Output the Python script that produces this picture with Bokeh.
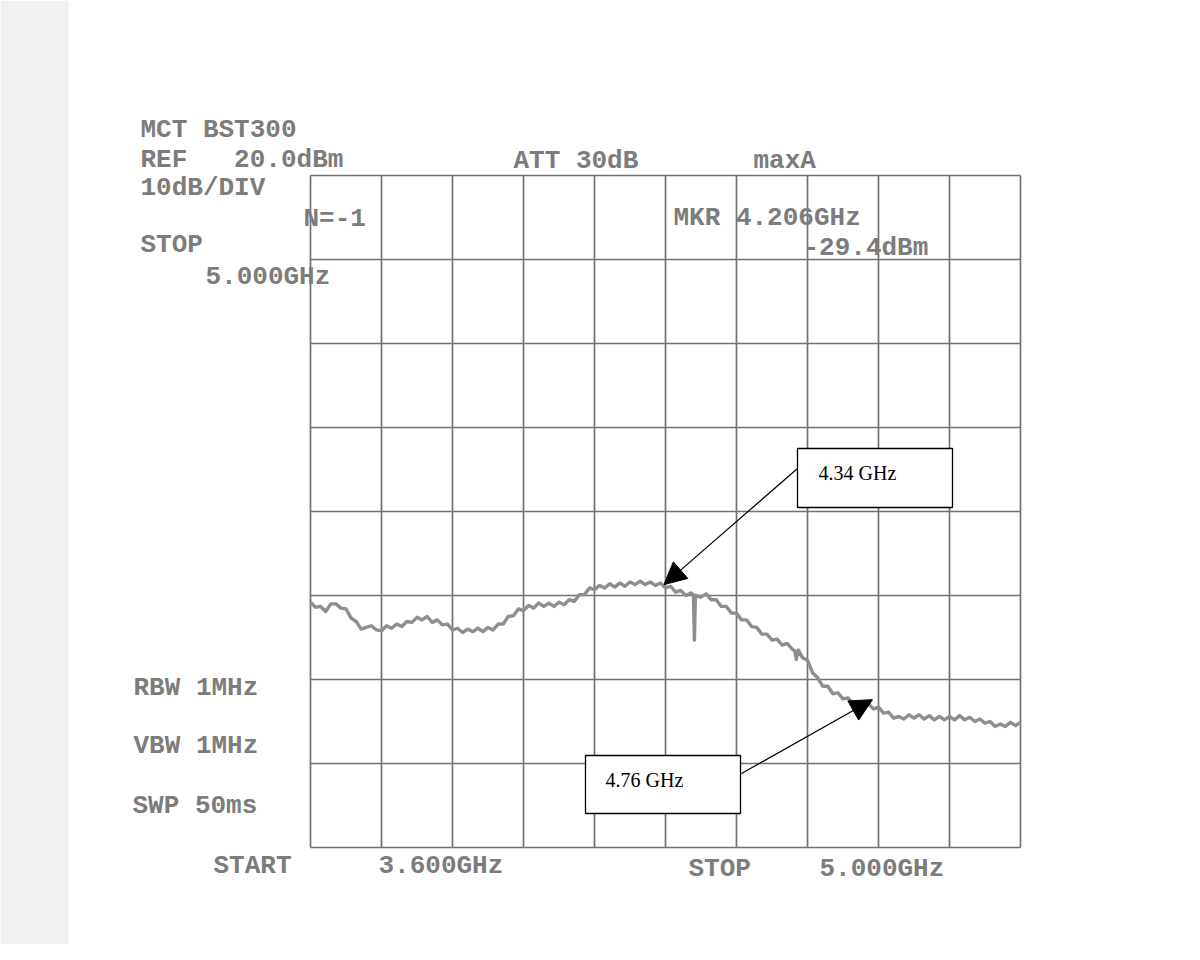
from bokeh.plotting import figure
from bokeh.models import Range1d, Label, Arrow, NormalHead
from bokeh.embed import file_html
from bokeh.resources import INLINE

# ---------------- data ----------------
freq_ghz = [3.60, 3.61, 3.62, 3.63, 3.64, 3.65, 3.66, 3.67, 3.68, 3.69,
            3.70, 3.71, 3.72, 3.73, 3.74, 3.75, 3.76, 3.77, 3.78, 3.79,
            3.80, 3.81, 3.82, 3.83, 3.84, 3.85, 3.86, 3.87, 3.88, 3.89,
            3.90, 3.91, 3.92, 3.93, 3.94, 3.95, 3.96, 3.97, 3.98, 3.99,
            4.00, 4.01, 4.02, 4.03, 4.04, 4.05, 4.06, 4.07, 4.08, 4.09,
            4.10, 4.11, 4.12, 4.13, 4.14, 4.15, 4.16, 4.17, 4.18, 4.19,
            4.20, 4.21, 4.22, 4.23, 4.24, 4.25, 4.26, 4.27, 4.28, 4.29,
            4.30, 4.31, 4.32, 4.33, 4.34, 4.35, 4.355, 4.357, 4.359, 4.37,
            4.38, 4.39, 4.40, 4.41, 4.42, 4.43, 4.44, 4.45, 4.46, 4.47,
            4.48, 4.49, 4.50, 4.51, 4.52, 4.53, 4.54, 4.55, 4.555, 4.558,
            4.562, 4.57, 4.58, 4.59, 4.60, 4.61, 4.62, 4.63, 4.64, 4.65,
            4.66, 4.67, 4.68, 4.69, 4.70, 4.71, 4.72, 4.73, 4.74, 4.75,
            4.76, 4.77, 4.78, 4.79, 4.80, 4.81, 4.82, 4.83, 4.84, 4.85,
            4.86, 4.87, 4.88, 4.89, 4.90, 4.91, 4.92, 4.93, 4.94, 4.95,
            4.96, 4.97, 4.98, 4.99, 5.00]
level_dbm = [-30.8, -31.4, -31.3, -31.9, -31.0, -31.0, -31.5, -31.6, -32.7, -33.1,
             -34.0, -33.8, -33.6, -34.1, -34.2, -33.6, -33.9, -33.4, -33.7, -33.1,
             -33.2, -32.6, -32.9, -32.5, -33.2, -32.9, -33.5, -33.4, -34.1, -33.9,
             -34.4, -34.0, -34.3, -33.9, -34.3, -33.8, -34.1, -33.4, -33.4, -32.5,
             -32.4, -31.6, -31.8, -31.2, -31.5, -30.9, -31.3, -30.9, -31.3, -30.8,
             -31.1, -30.5, -30.7, -29.9, -29.9, -29.1, -29.3, -28.8, -29.1, -28.6,
             -29.0, -28.5, -28.9, -28.4, -28.7, -28.3, -28.7, -28.4, -28.8, -28.5,
             -29.1, -28.9, -29.6, -29.4, -30.0, -29.7, -29.9, -35.3, -30.0, -30.2,
             -29.8, -30.5, -30.5, -31.3, -31.3, -32.1, -32.1, -32.9, -32.9, -33.7,
             -33.8, -34.6, -34.6, -35.3, -35.2, -35.9, -35.7, -36.4, -36.6, -37.6,
             -36.5, -37.4, -37.7, -39.2, -39.8, -40.8, -40.8, -41.7, -41.6, -42.3,
             -42.2, -42.9, -42.7, -43.3, -42.9, -43.5, -43.3, -44.0, -43.9, -44.6,
             -44.4, -44.7, -44.2, -44.6, -44.2, -44.7, -44.3, -44.8, -44.4, -44.8,
             -44.4, -44.8, -44.3, -44.8, -44.5, -45.0, -44.7, -45.2, -45.0, -45.6,
             -45.3, -45.6, -45.1, -45.5, -45.1]

x_grid = [3.60, 3.74, 3.88, 4.02, 4.16, 4.30, 4.44, 4.58, 4.72, 4.86, 5.00]
y_grid = [20, 10, 0, -10, -20, -30, -40, -50, -60]

peak_label = "4.34 GHz"
peak_tip = (4.297, -28.7)
knee_label = "4.76 GHz"
knee_tip = (4.708, -42.4)

NB = "\u00a0"
header_texts = ["MCT BST300", "REF" + NB * 3 + "20.0dBm", "10dB/DIV", "N=-1", "STOP", "5.000GHz",
                "ATT 30dB", "maxA", "MKR 4.206GHz", "-29.4dBm",
                "RBW 1MHz", "VBW 1MHz", "SWP 50ms",
                "START", "3.600GHz", "STOP", "5.000GHz"]

# ---------------- page geometry (pixels of the printout) ----------------
W, H = 1184, 944
GL, GR, GT, GB = 310, 1020, 175, 847   # grid box in page pixels


def X(px):
    return x_grid[0] + (px - GL) * (x_grid[-1] - x_grid[0]) / (GR - GL)


def Y(py):
    return y_grid[0] - (py - GT) * (y_grid[0] - y_grid[-1]) / (GB - GT)


p = figure(width=W, height=H, output_backend="svg", toolbar_location=None,
           x_axis_type=None, y_axis_type=None,
           x_range=Range1d(X(0), X(W)), y_range=Range1d(Y(H), Y(0)),
           min_border=0)
p.outline_line_color = None
p.background_fill_color = "white"
p.border_fill_color = "white"

# paper edge shading
p.quad(left=[X(0)], right=[X(68)], bottom=[Y(H)], top=[Y(0)],
       fill_color="#f1f1f1", line_color=None)

# grid
gcol = "#727272"
p.segment(x0=x_grid, y0=[y_grid[-1]] * len(x_grid), x1=x_grid, y1=[y_grid[0]] * len(x_grid),
          line_color=gcol, line_width=1.7)
p.segment(x0=[x_grid[0]] * len(y_grid), y0=y_grid, x1=[x_grid[-1]] * len(y_grid), y1=y_grid,
          line_color=gcol, line_width=1.7)

# trace
p.line(freq_ghz, level_dbm, line_color="#8e8e8e", line_width=3.4, line_join="round")

# instrument texts
pos = [(140, 129), (140, 159), (140, 187), (303, 218), (140, 244), (205, 276),
       (513, 160), (753, 160), (673, 217), (803, 247),
       (133, 687), (133, 745), (132, 805),
       (213, 865), (378, 865), (688, 868), (819, 868)]
for t, (px, py) in zip(header_texts, pos):
    p.add_layout(Label(x=X(px), y=Y(py), text=t, text_font="Liberation Mono",
                       text_font_size="26px", text_font_style="bold",
                       text_color="#7c7c7c", text_baseline="middle", text_align="left"))

# annotation boxes + arrows
p.add_layout(Arrow(x_start=X(797), y_start=Y(468), x_end=peak_tip[0], y_end=peak_tip[1],
                   line_color="black", line_width=1.2,
                   end=NormalHead(size=22, fill_color="black", line_color="black")))
p.add_layout(Arrow(x_start=X(741), y_start=Y(773), x_end=knee_tip[0], y_end=knee_tip[1],
                   line_color="black", line_width=1.2,
                   end=NormalHead(size=22, fill_color="black", line_color="black")))

p.quad(left=[X(797), X(585)], right=[X(952), X(740)], top=[Y(448), Y(755)],
       bottom=[Y(507), Y(813)], fill_color="white", line_color="black", line_width=1.3)
p.add_layout(Label(x=X(818), y=Y(472), text=peak_label, text_font="Liberation Serif",
                   text_font_size="20px", text_color="black", text_baseline="middle"))
p.add_layout(Label(x=X(605), y=Y(779), text=knee_label, text_font="Liberation Serif",
                   text_font_size="20px", text_color="black", text_baseline="middle"))

open("out.html", "w").write(file_html(p, INLINE))
